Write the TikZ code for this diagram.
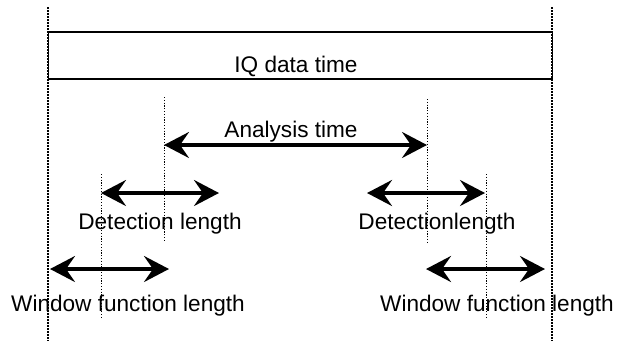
\documentclass[tikz,border=0pt]{standalone}
\usepackage{fontspec}
\setmainfont{Liberation Sans}
\usetikzlibrary{arrows.meta}
\begin{document}
\begin{tikzpicture}[x=1pt,y=-1pt,
  guideA/.style={line width=1.6pt, dash pattern=on 1.6pt off 1.4pt},
  guideB/.style={line width=1pt, dash pattern=on 1.2pt off 1.6pt},
  span/.style={line width=3.4pt, {Stealth[length=25pt,width=26pt,inset=9pt]}-{Stealth[length=25pt,width=26pt,inset=9pt]}},
  lbl/.style={font=\fontsize{22.6}{25}\selectfont, anchor=base, inner sep=0pt}]
\useasboundingbox (0,0) rectangle (617,341);
% outer guides
\coordinate (L1) at (48,7);   \coordinate (L2) at (48,341);
\coordinate (R1) at (552,7);  \coordinate (R2) at (552,341);
\draw[guideA] (L1) -- (L2);
\draw[guideA] (R1) -- (R2);
% IQ data box
\node[draw, line width=1.8pt, minimum width=504pt, minimum height=47pt, inner sep=0pt, anchor=north west] (box) at (47.5,31) {};
\node[lbl] (iq) at (296,72) {IQ data time};
% analysis guides
\coordinate (A1) at (164,97);  \coordinate (A2) at (164,240);
\coordinate (B1) at (427,99);  \coordinate (B2) at (427,242);
\draw[guideB] (A1) -- (A2);
\draw[guideB] (B1) -- (B2);
\coordinate (aa) at (164,145); \coordinate (ab) at (427,145);
\draw[span] (aa) -- (ab);
\node[lbl] (an) at (291,137) {Analysis time};
% detection guides
\coordinate (C1) at (101,174); \coordinate (C2) at (101,317);
\coordinate (D1) at (486,174); \coordinate (D2) at (486,317);
\draw[guideB] (C1) -- (C2);
\draw[guideB] (D1) -- (D2);
\coordinate (da) at (101,193); \coordinate (db) at (219,193);
\draw[span] (da) -- (db);
\node[lbl] (dl) at (160,229) {Detection length};
\coordinate (ea) at (367,193); \coordinate (eb) at (485,193);
\draw[span] (ea) -- (eb);
\node[lbl] (dr) at (437,229) {Detectionlength};
% window
\coordinate (wa) at (50,269); \coordinate (wb) at (169,269);
\draw[span] (wa) -- (wb);
\node[lbl] (wl) at (128,311) {Window function length};
\coordinate (xa) at (426,269); \coordinate (xb) at (545,269);
\draw[span] (xa) -- (xb);
\node[lbl] (wr) at (497,311) {Window function length};
\end{tikzpicture}
\end{document}
